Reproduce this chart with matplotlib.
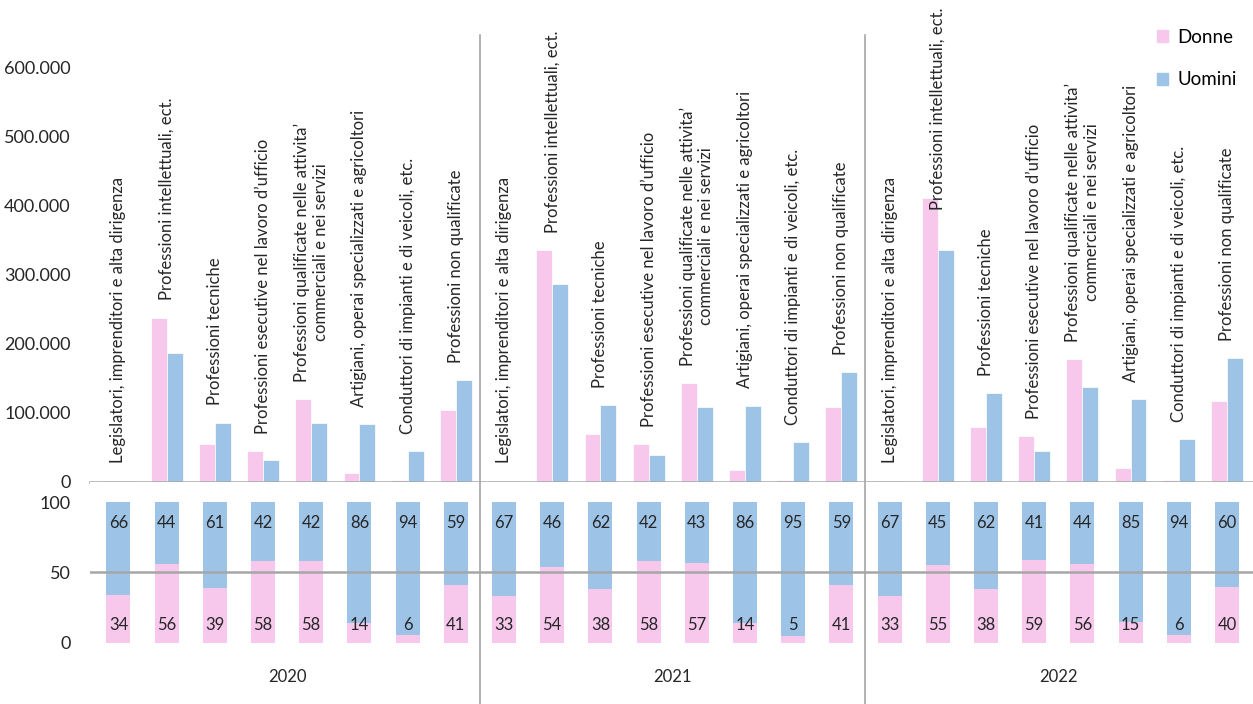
import numpy as np
import matplotlib
matplotlib.use("Agg")
import matplotlib.pyplot as plt
from matplotlib.ticker import FuncFormatter
from matplotlib.patches import Patch

plt.rcParams['font.family'] = ['Lato', 'DejaVu Sans']

# dati
anni = ['2020', '2021', '2022']
categorie = [
    'Legislatori, imprenditori e alta dirigenza',
    'Professioni intellettuali, ect.',
    'Professioni tecniche',
    'Professioni esecutive nel lavoro d\u2019ufficio',
    'Professioni qualificate nelle attivita\u2019\ncommerciali e nei servizi',
    'Artigiani, operai specializzati e agricoltori',
    'Conduttori di impianti e di veicoli, etc.',
    'Professioni non qualificate',
]
donne_2020 = [1000, 238000, 55000, 45000, 120000, 12600, 2500, 104000]
uomini_2020 = [2000, 186500, 86000, 32000, 86000, 84000, 45000, 148000]
donne_2021 = [1000, 336000, 69000, 54600, 143000, 17400, 3000, 109000]
uomini_2021 = [2000, 287000, 111600, 39000, 109000, 110600, 58000, 159000]
donne_2022 = [1000, 412000, 79700, 67000, 178000, 20000, 3500, 117000]
uomini_2022 = [2000, 336000, 128500, 45000, 137000, 120000, 62000, 180000]

pct_donne = [34, 56, 39, 58, 58, 14, 6, 41,
             33, 54, 38, 58, 57, 14, 5, 41,
             33, 55, 38, 59, 56, 15, 6, 40]
pct_uomini = [66, 44, 61, 42, 42, 86, 94, 59,
              67, 46, 62, 42, 43, 86, 95, 59,
              67, 45, 62, 41, 44, 85, 94, 60]

donne = donne_2020 + donne_2021 + donne_2022
uomini = uomini_2020 + uomini_2021 + uomini_2022

ROSA = '#F7C8EC'
AZZURRO = '#9DC3E6'
GRIGIO = '#A6A6A6'
TESTO = '#262626'

n_cat = len(categorie)
x = np.arange(len(donne))

W, H = 1253, 704
fig = plt.figure(figsize=(W / 100, H / 100), dpi=100)

# pannello superiore: valori assoluti
ax1 = fig.add_axes([90 / W, 1 - 482 / H, 1 - 90 / W, 482 / H])
# pannello inferiore: composizione percentuale
ax2 = fig.add_axes([90 / W, 0, 1 - 90 / W, (704 - 482) / H])

xlim = (-0.59, 23.54)
bw = 0.33
ax1.bar(x - bw / 2, donne, bw, color=ROSA, edgecolor='white', linewidth=0.5, zorder=2)
ax1.bar(x + bw / 2, uomini, bw, color=AZZURRO, edgecolor='white', linewidth=0.5, zorder=2)
ax1.set_xlim(*xlim)
ax1.set_ylim(0, 482 * 1449)
ax1.set_yticks(np.arange(0, 600001, 100000))
ax1.yaxis.set_major_formatter(FuncFormatter(lambda v, p: f'{int(v):,}'.replace(',', '.')))
ax1.tick_params(axis='y', length=0, labelsize=13, pad=14, labelcolor=TESTO)
ax1.set_xticks([])
for s in ['top', 'right', 'left']:
    ax1.spines[s].set_visible(False)
ax1.spines['bottom'].set_color(GRIGIO)
ax1.spines['bottom'].set_linewidth(1.8)
ax1.spines['bottom'].set_zorder(3)

# etichette delle categorie sopra le barre
for i in x:
    lab = categorie[i % n_cat]
    m = max(donne[i], uomini[i])
    if m > 350000:
        # non c'e' spazio sopra: si appoggia al bordo superiore
        ax1.text(i, 688000, lab, rotation=90, ha='center', va='top',
                 multialignment='center', fontsize=12, color=TESTO, zorder=4)
    else:
        ax1.text(i, m + 25000, lab, rotation=90, ha='center', va='bottom',
                 multialignment='center', fontsize=12, color=TESTO, zorder=4)

# separatori tra anni
for sep in [7.5, 15.5]:
    ax1.axvline(sep, ymin=0, ymax=(482 - 35) / 482, color=GRIGIO, linewidth=1.2, zorder=1)
    ax2.axvline(sep, color=GRIGIO, linewidth=1.2, zorder=1)

ax1.legend(handles=[Patch(color=ROSA, label='Donne'), Patch(color=AZZURRO, label='Uomini')],
           loc='upper left', bbox_to_anchor=(0.9028, 0.975),
           bbox_transform=ax1.transAxes, frameon=False, fontsize=13.5,
           handlelength=0.6, handleheight=0.6, handletextpad=0.5, labelspacing=1.35)

# barre percentuali
bw2 = 0.5
ax2.bar(x, pct_donne, bw2, color=ROSA, zorder=2)
ax2.bar(x, pct_uomini, bw2, bottom=pct_donne, color=AZZURRO, zorder=2)
for i in x:
    ax2.text(i, 13, str(pct_donne[i]), ha='center', va='center',
             fontsize=12, color=TESTO, zorder=4)
    ax2.text(i, 85, str(pct_uomini[i]), ha='center', va='center',
             fontsize=12, color=TESTO, zorder=4)
ax2.axhline(50, color=GRIGIO, linewidth=1.8, zorder=3)
ax2.set_xlim(*xlim)
ax2.set_ylim(-43.3, 114.2)
ax2.set_yticks([0, 50, 100])
ax2.tick_params(axis='y', length=0, labelsize=13, pad=14, labelcolor=TESTO)
ax2.set_xticks([])
for s in ax2.spines.values():
    s.set_visible(False)

for k, anno in enumerate(anni):
    ax2.text(k * n_cat + (n_cat - 1) / 2, -24, anno, ha='center', va='center',
             fontsize=12, color=TESTO)

fig.savefig('out.png', dpi=100)
